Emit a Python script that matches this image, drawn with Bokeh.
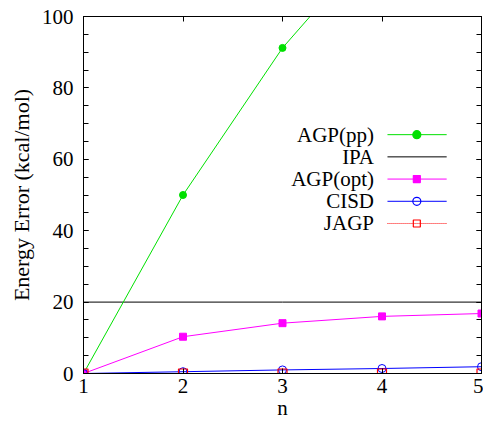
from bokeh.plotting import figure
from bokeh.models import Range1d, FixedTicker, LinearAxis
from bokeh.core.properties import value
from bokeh.embed import file_html
from bokeh.resources import INLINE

n = [1, 2, 3, 4, 5]
agp_pp = [0, 50, 91.2, 123, 153]
ipa = [20, 20, 20, 20, 20]
agp_opt = [0, 10.3, 14.1, 16.0, 16.8]
cisd = [0, 0.5, 1.0, 1.4, 1.9]
jagp = [0, 0, 0, 0, 0]
y_ticks = [0, 20, 40, 60, 80, 100]
y_minor = list(range(0, 101, 5))
x_ticks = [1, 2, 3, 4, 5]

FONT = "Liberation Serif"
FS = "21px"

p = figure(width=483, height=422, output_backend="svg", toolbar_location=None,
           x_range=Range1d(1, 5), y_range=Range1d(0, 100),
           min_border_left=83, min_border_right=2, min_border_top=16, min_border_bottom=49)
p.background_fill_color = "white"
p.border_fill_color = "white"
p.outline_line_color = "black"
p.outline_line_width = 1
p.grid.visible = False

for ax in p.xaxis:
    ax.ticker = FixedTicker(ticks=x_ticks, minor_ticks=[])
for ax in p.yaxis:
    ax.ticker = FixedTicker(ticks=y_ticks, minor_ticks=y_minor)

def style(ax):
    ax.axis_line_color = "black"
    ax.major_tick_in = 5
    ax.major_tick_out = 0
    ax.minor_tick_in = 5
    ax.minor_tick_out = 0
    ax.major_tick_line_color = "black"
    ax.minor_tick_line_color = "black"
    ax.major_label_text_font = FONT
    ax.major_label_text_font_size = FS
    ax.major_label_text_color = "black"
    ax.axis_label_text_font = FONT
    ax.axis_label_text_font_size = FS
    ax.axis_label_text_font_style = "normal"
    ax.axis_label_text_color = "black"

style(p.xaxis[0])
style(p.yaxis[0])
p.xaxis[0].axis_label = "n"
p.yaxis[0].axis_label = "Energy Error (kcal/mol)"
p.yaxis[0].axis_label_text_font_size = "22px"
p.xaxis[0].major_label_standoff = 5
p.yaxis[0].major_label_standoff = 10
p.xaxis[0].axis_label_standoff = 0
p.yaxis[0].axis_label_standoff = 5

# mirror ticks (gnuplot style), no labels
top = LinearAxis(ticker=FixedTicker(ticks=x_ticks, minor_ticks=[]))
right = LinearAxis(ticker=FixedTicker(ticks=y_ticks, minor_ticks=y_minor))
for ax in (top, right):
    style(ax)
    ax.major_label_text_alpha = 0
    ax.major_label_standoff = 0
top.major_label_overrides = {t: "" for t in x_ticks}
right.major_label_overrides = {t: "" for t in y_ticks}
p.add_layout(top, "above")
p.add_layout(right, "right")

GREEN = "#00e000"
MAG = "#ff00ff"
BLUE = "#0000ff"
RED = "#ff0000"

p.line(n, ipa, color="black", line_width=1)
p.line(n, agp_pp, color=GREEN, line_width=1)
p.scatter(n, agp_pp, marker="circle", size=7, color=GREEN)
p.line(n, agp_opt, color=MAG, line_width=1)
p.scatter(n, agp_opt, marker="square", size=7, color=MAG)
p.line(n, cisd, color=BLUE, line_width=1)
p.scatter(n, cisd, marker="circle", size=8, fill_color=None, line_color=BLUE, line_width=1)
p.line(n, jagp, color=RED, line_width=1, line_dash="1 1")
p.scatter(n, jagp, marker="square", size=9, fill_color=None, line_color=RED, line_width=1.2)

# custom gnuplot-style legend (label right-aligned, sample to its right)
names = ["AGP(pp)", "IPA", "AGP(opt)", "CISD", "JAGP"]
colors = [GREEN, "black", MAG, BLUE, RED]
markers = ["circle", None, "square", "circle", "square"]
fills = [GREEN, None, MAG, None, None]
dashes = ["solid", "solid", "solid", "solid", "1 1"]
lx_text = 3.92
lx0, lx1, lxm = 4.055, 4.65, 4.35
ly0, lstep = 66.9, 6.22
for i, nm in enumerate(names):
    yy = ly0 - i * lstep
    p.text([lx_text], [yy], text=[nm], text_align="right", text_baseline="middle",
           text_font=value(FONT), text_font_size=FS, text_color="black")
    p.line([lx0, lx1], [yy, yy], color=colors[i], line_width=1, line_dash=dashes[i])
    if markers[i]:
        p.scatter([lxm], [yy], marker=markers[i], size=8 if markers[i] == "circle" else 7,
                  fill_color=fills[i], line_color=colors[i], line_width=1.2)

open("out.html", "w").write(file_html(p, INLINE))
